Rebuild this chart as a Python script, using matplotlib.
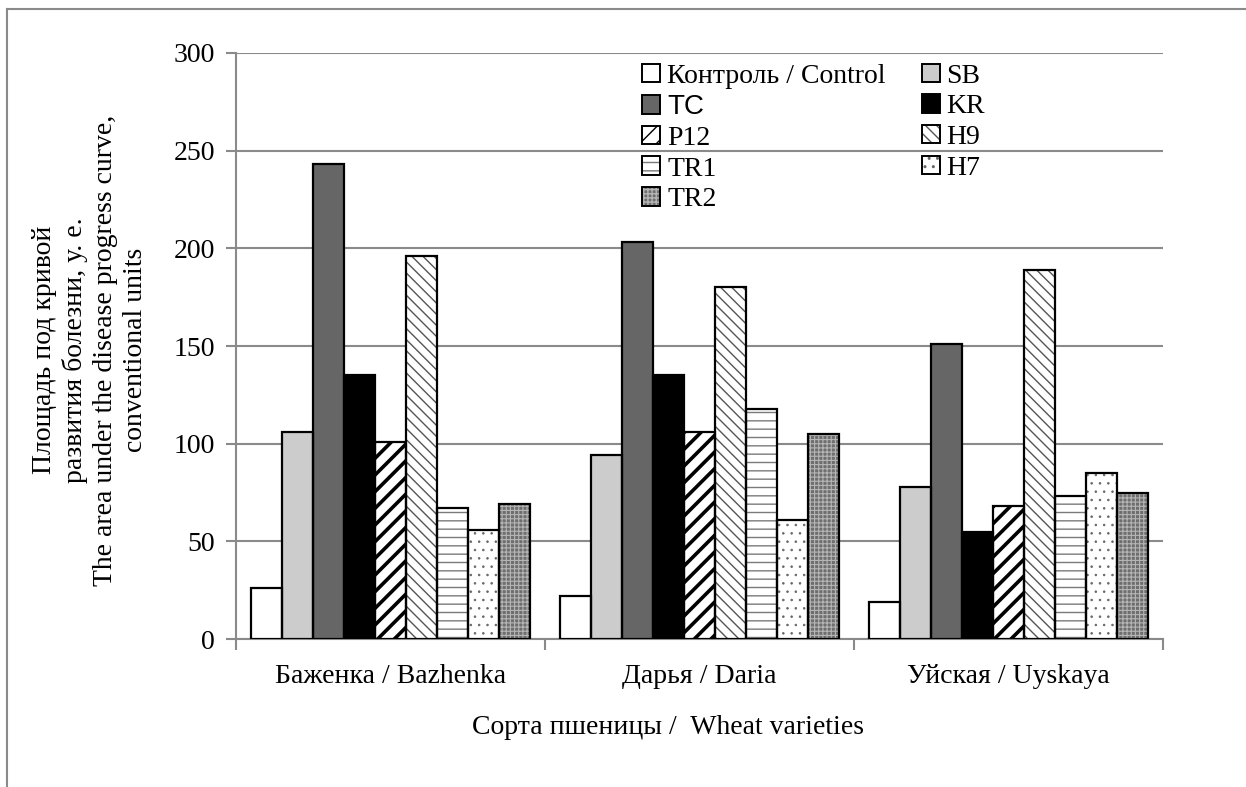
import matplotlib
matplotlib.use("Agg")
import matplotlib.pyplot as plt
import numpy as np
from matplotlib.patches import Patch
from matplotlib.legend_handler import HandlerTuple
from matplotlib.lines import Line2D

plt.rcParams['font.family'] = ['Liberation Serif', 'DejaVu Serif']

categories = ["Баженка / Bazhenka", "Дарья / Daria", "Уйская / Uyskaya"]
series_names = ["Контроль / Control", "SB", "TC", "KR", "P12", "H9", "TR1", "H7", "TR2"]
control = [26, 22, 19]
sb = [106, 94, 78]
tc = [243, 203, 151]
kr = [135, 135, 55]
p12 = [101, 106, 68]
h9 = [196, 180, 189]
tr1 = [67, 118, 73]
h7 = [56, 61, 85]
tr2 = [69, 105, 75]
values = [control, sb, tc, kr, p12, h9, tr1, h7, tr2]
yticks = [0, 50, 100, 150, 200, 250, 300]

# style: (facecolor, hatch, hatchcolor, hatch linewidth)
styles = [
    ("white", "", "black", 1.0),
    ("#cccccc", "", "black", 1.0),
    ("#666666", "", "black", 1.0),
    ("#000000", "", "black", 1.0),
    ("white", "//", "black", 2.6),
    ("white", "\\\\\\", "#555555", 1.0),
    ("white", "--", "#7a7a7a", 1.0),
    ("white", "..", "#666666", 0.6),
    ("#6e6e6e", "++++", "#b5b5b5", 0.8),
]

FS = 20

fig = plt.figure(figsize=(12.46, 7.87), dpi=100)
ax = fig.add_axes([0.1894, 0.188, 0.744, 0.7447])

x = np.arange(len(categories))
w = 0.1
handles = []
for i, (vals, (fc, hatch, hc, hlw)) in enumerate(zip(values, styles)):
    pos = x - 0.45 + w / 2 + i * w
    with plt.rc_context({'hatch.linewidth': hlw, 'hatch.color': hc}):
        ax.bar(pos, vals, width=w, facecolor=fc, hatch=hatch or None,
               edgecolor=hc, linewidth=0, zorder=3)
        hp = Patch(facecolor=fc, hatch=hatch or None, edgecolor=hc, linewidth=0)
    ax.bar(pos, vals, width=w, facecolor="none", edgecolor="black",
           linewidth=1.6, zorder=4)
    bp = Patch(facecolor="none", edgecolor="black", linewidth=1.4)
    handles.append((hp, bp))

ax.set_xlim(-0.5, 2.5)
ax.set_ylim(0, 300)
ax.set_yticks(yticks)
ax.set_yticklabels([str(t) for t in yticks], fontsize=FS)
ax.yaxis.grid(True, color="#8a8a8a", linewidth=1.5, zorder=0)
ax.set_axisbelow(True)
for s in ["top", "right"]:
    ax.spines[s].set_visible(False)
for s in ["left", "bottom"]:
    ax.spines[s].set_color("#8a8a8a")
    ax.spines[s].set_linewidth(1.5)
ax.tick_params(axis="y", direction="out", length=7, width=1.5, color="#8a8a8a", pad=8)
ax.set_xticks([-0.5, 0.5, 1.5, 2.5])
ax.set_xticklabels([])
ax.tick_params(axis="x", direction="out", length=8, width=1.5, color="#8a8a8a")
for xi, c in zip(x, categories):
    ax.text(xi, -37 / 586, c, transform=ax.get_xaxis_transform(), ha="center", va="center", fontsize=FS)

fig.text(90 / 1246, 1 - 350 / 787,
         "Площадь под кривой\nразвития болезни, у. е.\nThe area under the disease progress curve,\nconventional units",
         rotation=90, ha="center", va="center", fontsize=FS, multialignment="center", linespacing=1.25)
fig.text(668 / 1246, 1 - 727 / 787, "Сорта пшеницы /  Wheat varieties", ha="center", va="center", fontsize=FS)

order = [0, 2, 4, 6, 8, 1, 3, 5, 7]
leg = ax.legend([handles[i] for i in order], [series_names[i] for i in order],
                handler_map={tuple: HandlerTuple(ndivide=1)},
                ncol=2, loc="upper left", bbox_to_anchor=(0.42, 1.01), frameon=False,
                fontsize=FS, handlelength=0.65, handleheight=0.65, handletextpad=0.25,
                labelspacing=0.2, columnspacing=1.3, borderaxespad=0.2)
leg.set_zorder(10)
for t in leg.get_texts():
    if t.get_text() == "TC":
        t.set_family(['Liberation Sans', 'DejaVu Sans'])

# outer frame (top and left edges visible)
fig.add_artist(Line2D([7 / 1246, 7 / 1246], [0, 1 - 9 / 787], transform=fig.transFigure, color="#8a8a8a", linewidth=1.5))
fig.add_artist(Line2D([7 / 1246, 1], [1 - 9 / 787, 1 - 9 / 787], transform=fig.transFigure, color="#8a8a8a", linewidth=1.5))

fig.savefig("out.png", dpi=100)
